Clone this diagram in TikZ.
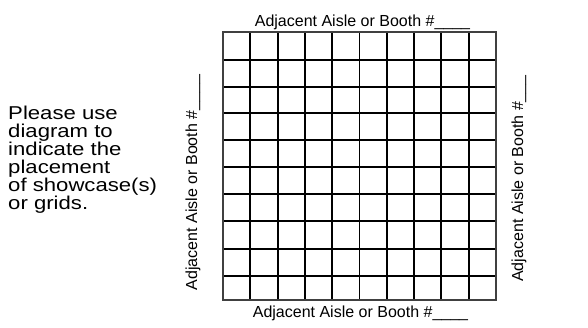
\documentclass[tikz,border=0pt]{standalone}
\usepackage{fontspec}
\setmainfont{Liberation Sans}
\usepackage{tikz}
\usetikzlibrary{positioning}

\begin{document}
\begin{tikzpicture}[
  x=1pt, y=-1pt,
  aisle/.style={font=\fontsize{16}{19}\selectfont, inner sep=0pt},
  note/.style={font=\fontsize{18.6}{18}\selectfont, align=left,
               inner sep=0pt, xscale=1.19},
  cell/.style={line width=1.9pt, black},
  rim/.style={line width=1.2pt, black!75}
]
  \useasboundingbox (0,0) rectangle (588,328);

  % booth grid
  \foreach \gx in {1,...,9}
    \draw[cell] ({223+27.3*\gx},32) -- ({223+27.3*\gx},300);
  \foreach \gy in {60,86.7,113.3,140,166.7,194,221,248.7,276}
    \draw[cell] (223,\gy) -- (496,\gy);
  \draw[rim] (223,32) rectangle (496,300);

  \node[aisle, anchor=base] (top) at (362.5,27) {Adjacent Aisle or Booth \#\_\_\_\_};
  \node[aisle, anchor=base] (bottom) at (360.5,317) {Adjacent Aisle or Booth \#\_\_\_\_};
  \node[aisle, anchor=base, rotate=90] (left) at (197,182.5) {Adjacent Aisle or Booth \#\_\_\_\_};
  \node[aisle, anchor=base, rotate=90] (right) at (523,178.5) {Adjacent Aisle or Booth \#\_\_\_};

  \node[note, anchor=north west] (hint) at (8,106)
    {Please use\\diagram to\\indicate the\\placement\\of showcase(s)\\or grids.};
\end{tikzpicture}
\end{document}
